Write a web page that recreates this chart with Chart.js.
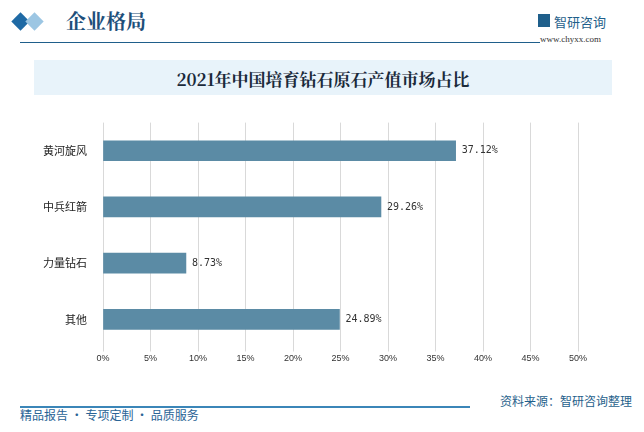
<!DOCTYPE html>
<html><head><meta charset="utf-8">
<script src="https://cdn.jsdelivr.net/npm/chart.js@4"></script>
<style>
body{margin:0;width:644px;height:432px;background:#fff;position:relative;overflow:hidden;font-family:"Noto Sans CJK SC";}
.abs{position:absolute;}
</style></head><body>
<div class="abs" style="left:14px;top:15px;width:13px;height:13px;background:#1f6aa5;transform:rotate(45deg);"></div>
<div class="abs" style="left:28px;top:15px;width:13px;height:13px;background:#9cc6e3;transform:rotate(45deg);"></div>
<div class="abs" style="left:66px;top:6px;font:bold 20px 'Noto Serif CJK SC','Noto Sans CJK SC';color:#1d4f7a;">企业格局</div>
<div class="abs" style="left:20px;top:42px;width:520px;height:1px;background:#1f5f8b;"></div>
<div class="abs" style="left:538px;top:14px;width:12px;height:13px;background:#1f5f8b;"></div>
<div class="abs" style="left:554px;top:12px;font:13px 'Noto Sans CJK SC';color:#1f5f8b;">智研咨询</div>
<div class="abs" style="left:540px;top:34px;font:9px 'Liberation Serif';color:#333;">www.chyxx.com</div>
<div class="abs" style="left:34px;top:60px;width:578px;height:35px;background:#e8f3fa;"></div>
<div class="abs" style="left:34px;top:66px;width:578px;text-align:center;font:bold 17px 'Noto Serif CJK SC','Noto Sans CJK SC';color:#1a2a3a;">2021年中国培育钻石原石产值市场占比</div>
<div class="abs" style="left:0;top:108px;width:600px;height:270px;"><canvas id="c"></canvas></div>
<div class="abs" style="left:20px;top:406px;width:450px;height:2px;background:#3b86b8;"></div>
<div class="abs" style="left:20px;top:406px;font:12px 'Noto Sans CJK SC';color:#2a6496;">精品报告 · 专项定制 · 品质服务</div>
<div class="abs" style="right:12px;top:392px;font:12px 'Noto Sans CJK SC';color:#1f5f8b;">资料来源：智研咨询整理</div>
<script>
const categories=["黄河旋风","中兵红箭","力量钻石","其他"];
const values=[37.12,29.26,8.73,24.89];
const valLabels={id:'vl',afterDatasetsDraw(ch){const ctx=ch.ctx;const m=ch.getDatasetMeta(0);ctx.save();ctx.font="10px 'DejaVu Sans Mono'";ctx.fillStyle="#333";ctx.textBaseline="middle";
m.data.forEach((b,i)=>{ctx.fillText(values[i].toFixed(2)+'%',b.x+6,b.y);});ctx.restore();}};
new Chart(document.getElementById('c'),{type:'bar',data:{labels:categories,datasets:[{data:values,backgroundColor:'#5b8ba5',barThickness:20}]},
options:{indexAxis:'y',responsive:true,maintainAspectRatio:false,animation:false,layout:{padding:{top:11.5,right:22}},
plugins:{legend:{display:false},tooltip:{enabled:false}},
scales:{x:{min:0,max:50,ticks:{stepSize:5,callback:v=>v+'%',color:'#333',font:{size:9},padding:2},grid:{color:'#d9d9d9',tickLength:4,drawTicks:true},border:{display:false},afterFit(a){a.height=30.5;}},
y:{ticks:{color:'#222',font:{size:11,family:'Noto Sans CJK SC'},padding:8},grid:{display:false},border:{display:false},afterFit(a){a.width=103;}}}},
plugins:[valLabels]});
</script></body></html>
